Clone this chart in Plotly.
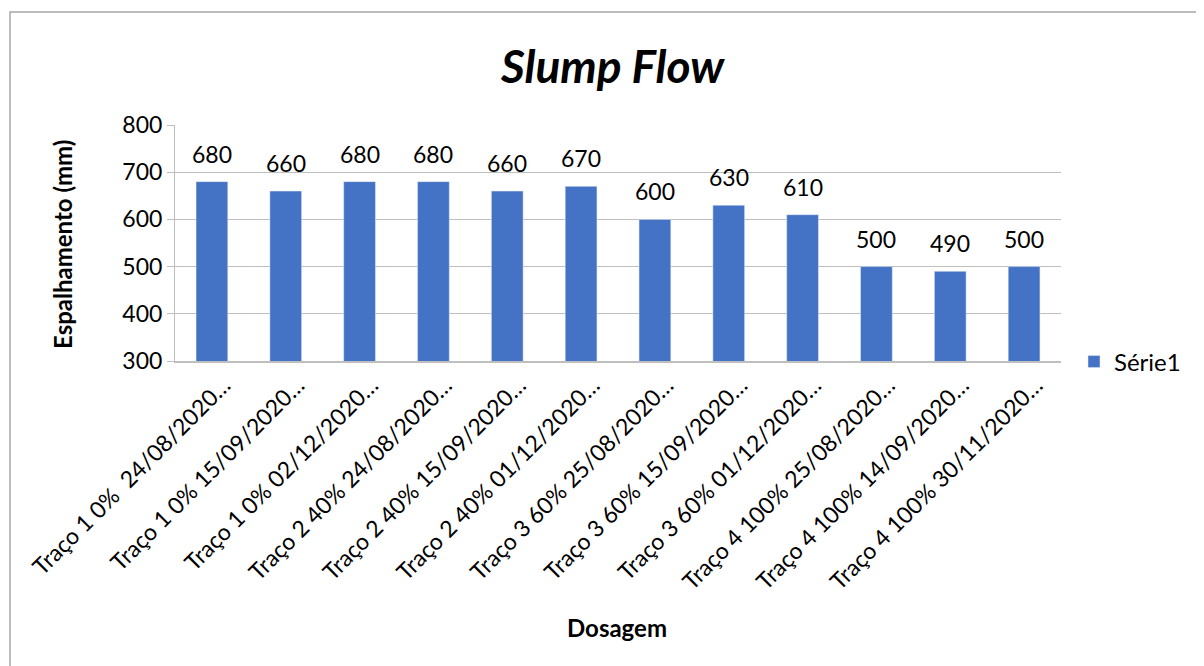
import plotly.graph_objects as go

categories = [
    "Traço 1 0%  24/08/2020…",
    "Traço 1 0% 15/09/2020…",
    "Traço 1 0% 02/12/2020…",
    "Traço 2 40% 24/08/2020…",
    "Traço 2 40% 15/09/2020…",
    "Traço 2 40% 01/12/2020…",
    "Traço 3 60% 25/08/2020…",
    "Traço 3 60% 15/09/2020…",
    "Traço 3 60% 01/12/2020…",
    "Traço 4 100% 25/08/2020…",
    "Traço 4 100% 14/09/2020…",
    "Traço 4 100% 30/11/2020…",
]
values = [680, 660, 680, 680, 660, 670, 600, 630, 610, 500, 490, 500]
y_ticks = [300, 400, 500, 600, 700, 800]

FONT = "Lato, Open Sans, sans-serif"
OFF = 8  # page body margin
W, H = 1204 - OFF, 666 - OFF
L, T = 175 - OFF, 125 - OFF
pw, ph = 886, 236
R, B = W - L - pw, H - T - ph

fig = go.Figure()
fig.add_trace(go.Bar(
    x=categories, y=values, name="Série1",
    marker_color="#4472C4", width=0.43,
))
for c, v in zip(categories, values):
    fig.add_annotation(x=c, y=v, text=str(v), xref="x", yref="y",
                       yanchor="bottom", xanchor="center", yshift=12,
                       showarrow=False, font=dict(size=23, family=FONT, color="#000000"))

fig.update_layout(
    width=W, height=H,
    margin=dict(l=L, r=R, t=T, b=B),
    paper_bgcolor="white", plot_bgcolor="white",
    font=dict(family=FONT, color="#000000"),
    showlegend=True,
    legend=dict(x=(1074 - 175) / pw, y=(361 - 362) / ph, xanchor="left", yanchor="middle",
                font=dict(size=24, family=FONT), bgcolor="rgba(0,0,0,0)"),
)
fig.update_xaxes(
    tickangle=-45, tickfont=dict(size=23, family=FONT),
    showline=True, linecolor="#bfbfbf", linewidth=1.5,
    ticks="", showgrid=False, automargin=False,
    ticklabelshift=12,
)
fig.update_yaxes(
    range=[300, 800], tickvals=y_ticks,
    tickfont=dict(size=23, family=FONT),
    showgrid=True, gridcolor="#bfbfbf", gridwidth=1,
    showline=True, linecolor="#bfbfbf", linewidth=1,
    ticks="outside", ticklen=7, tickcolor="#bfbfbf",
    zeroline=False, automargin=False,
)

fig.add_annotation(text="<b><i>Slump Flow</i></b>", xref="paper", yref="paper",
                   x=(612 - 175) / pw, y=(125 - 65) / ph + 1, xanchor="center", yanchor="middle",
                   showarrow=False, font=dict(size=46, family=FONT))
fig.add_annotation(text="<b>Espalhamento (mm)</b>", xref="paper", yref="paper",
                   x=(62 - 175) / pw, y=(361 - 245) / ph, xanchor="center", yanchor="middle",
                   textangle=-90, showarrow=False, font=dict(size=24, family=FONT))
fig.add_annotation(text="<b>Dosagem</b>", xref="paper", yref="paper",
                   x=(617 - 175) / pw, y=(361 - 627) / ph, xanchor="center", yanchor="middle",
                   showarrow=False, font=dict(size=24, family=FONT))

fig.add_shape(type="rect", xref="paper", yref="paper",
              x0=(10 - 175) / pw, x1=(1215 - 175) / pw,
              y0=(361 - 675) / ph, y1=(361 - 12) / ph,
              line=dict(color="#a6a6a6", width=1.5), fillcolor="rgba(0,0,0,0)", layer="below")

fig.write_html("out.html")
